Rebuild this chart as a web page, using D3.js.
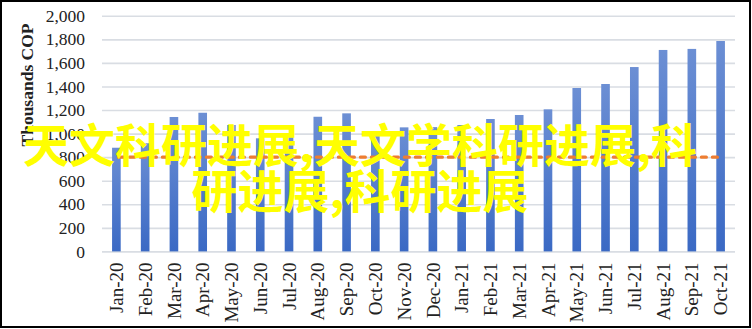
<!DOCTYPE html>
<html>
<head>
<meta charset="utf-8">
<script src="https://cdn.jsdelivr.net/npm/d3@7/dist/d3.min.js"></script>
<style>
  html, body { margin: 0; padding: 0; background: #fff; }
  svg { display: block; }
</style>
</head>
<body>
<svg id="chart" width="752" height="329"></svg>
<script>
// Monthly values (thousands COP)
const months = ["Jan-20","Feb-20","Mar-20","Apr-20","May-20","Jun-20","Jul-20","Aug-20","Sep-20","Oct-20","Nov-20","Dec-20",
                "Jan-21","Feb-21","Mar-21","Apr-21","May-21","Jun-21","Jul-21","Aug-21","Sep-21","Oct-21"];
const values = [880, 918, 1141, 1177, 1073, 960, 1005, 1143, 1172, 1000, 1053, 1055,
                1073, 1124, 1158, 1206, 1387, 1421, 1565, 1710, 1719, 1786];
const referenceLevel = 800;
const yTicks = [0, 200, 400, 600, 800, 1000, 1200, 1400, 1600, 1800, 2000];
const yTitle = "Thousands COP";
const overlayLines = ["天文科研进展,天文学科研进展,科", "研进展,科研进展"];

const svg = d3.select("#chart");
const W = 752, H = 329;
const plot = { left: 102, right: 735, top: 15.8, bottom: 251.4 };

const x = d3.scaleBand().domain(months).range([plot.left, plot.right]).paddingInner(0.7).paddingOuter(0.35);
const y = d3.scaleLinear().domain([0, 2000]).range([plot.bottom, plot.top]);

// bar fill gradient
const defs = svg.append("defs");
const grad = defs.append("linearGradient").attr("id", "barGrad")
  .attr("x1", 0).attr("y1", 0).attr("x2", 0).attr("y2", 1);
grad.append("stop").attr("offset", "0%").attr("stop-color", "#6C8FD4");
grad.append("stop").attr("offset", "100%").attr("stop-color", "#3A69C4");

// horizontal gridlines
svg.append("g")
  .attr("transform", `translate(${plot.left},0)`)
  .call(d3.axisLeft(y).tickValues(yTicks).tickSize(-(plot.right - plot.left)).tickFormat(""))
  .call(g => g.select(".domain").remove())
  .call(g => g.selectAll("line").attr("stroke", "#D9DDE3").attr("stroke-width", 1.6));

// y tick labels
svg.append("g")
  .attr("transform", `translate(${plot.left},0)`)
  .call(d3.axisLeft(y).tickValues(yTicks).tickSize(0).tickPadding(17).tickFormat(d3.format(",")))
  .call(g => g.select(".domain").remove())
  .call(g => g.selectAll("text")
    .attr("font-family", "'Liberation Serif', 'Times New Roman', serif")
    .attr("font-size", 17.5).attr("fill", "#222"));

// y axis title
svg.append("text")
  .attr("transform", "translate(33,85) rotate(-90)")
  .attr("text-anchor", "middle")
  .attr("font-family", "'Liberation Serif', 'Times New Roman', serif")
  .attr("font-weight", "bold")
  .attr("font-size", 17.5)
  .attr("fill", "#222")
  .text(yTitle);

// bars
svg.append("g").selectAll("rect")
  .data(months.map((m, i) => ({ m, v: values[i] })))
  .join("rect")
  .attr("x", d => x(d.m))
  .attr("width", x.bandwidth())
  .attr("y", d => y(d.v))
  .attr("height", d => y(0) - y(d.v))
  .attr("fill", "url(#barGrad)");

// x tick labels
svg.append("g")
  .attr("transform", `translate(0,${plot.bottom})`)
  .call(d3.axisBottom(x).tickSize(0).tickPadding(0))
  .call(g => g.select(".domain").remove())
  .call(g => g.selectAll("text")
    .attr("font-family", "'Liberation Serif', 'Times New Roman', serif")
    .attr("font-size", 19)
    .attr("fill", "#222")
    .attr("text-anchor", "end")
    .attr("dy", "0.35em")
    .attr("transform", "translate(0,11) rotate(-90)")
    .attr("x", 0).attr("y", 0));

// reference line
const c0 = x(months[0]) + x.bandwidth() / 2;
const c1 = x(months[months.length - 1]) + x.bandwidth() / 2;
svg.append("line")
  .attr("x1", c0 + 2).attr("x2", c1 + 2)
  .attr("y1", y(referenceLevel)).attr("y2", y(referenceLevel))
  .attr("stroke", "#ED7D31").attr("stroke-width", 3.2)
  .attr("stroke-dasharray", "5,6").attr("stroke-linecap", "round");

// overlay caption
const cap = svg.append("text")
  .attr("font-family", "'Noto Sans CJK SC', sans-serif")
  .attr("font-weight", "bold")
  .attr("font-size", 46)
  .attr("fill", "#FFFF00")
  .attr("text-anchor", "middle");
cap.selectAll("tspan").data(overlayLines).join("tspan")
  .attr("x", 360)
  .attr("y", (d, i) => 162 + i * 46)
  .text(d => d);

// outer frame
svg.append("rect")
  .attr("x", 1).attr("y", 1).attr("width", W - 3).attr("height", H - 3)
  .attr("fill", "none").attr("stroke", "#000").attr("stroke-width", 2);
</script>
</body>
</html>
